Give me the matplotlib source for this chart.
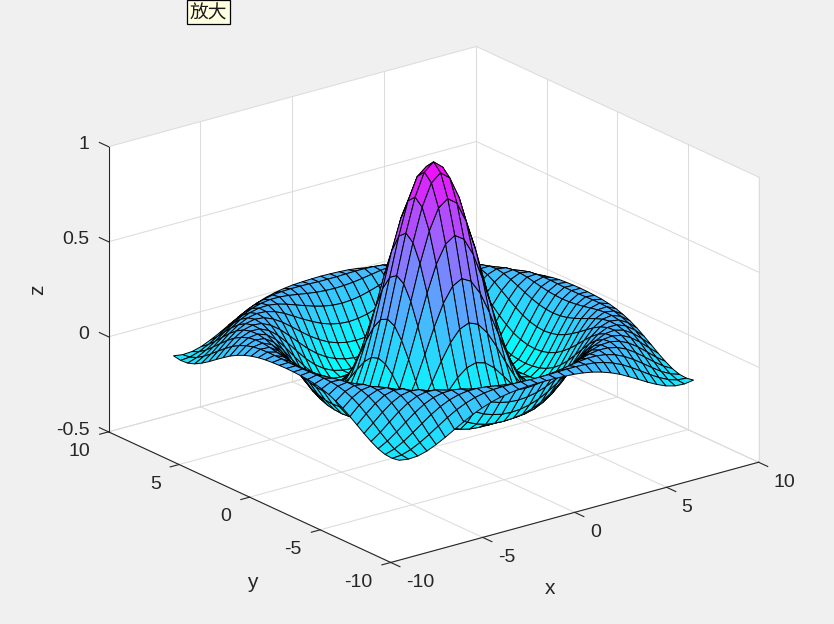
import numpy as np
import matplotlib
matplotlib.use('Agg')
import matplotlib.pyplot as plt
from matplotlib.patches import Rectangle
from mpl_toolkits.mplot3d.art3d import Poly3DCollection

# grid of the surface, one line every half unit
grid_x = [-8.0, -7.5, -7.0, -6.5, -6.0, -5.5, -5.0, -4.5, -4.0, -3.5, -3.0, -2.5, -2.0, -1.5, -1.0, -0.5, 0.0,
          0.5, 1.0, 1.5, 2.0, 2.5, 3.0, 3.5, 4.0, 4.5, 5.0, 5.5, 6.0, 6.5, 7.0, 7.5, 8.0]
grid_y = list(grid_x)

# heights for one eighth of the surface, row = |index from centre|, the rest is mirrored
z_rows = [
    [1.0],
    [.959, .919],
    [.841, .805, .698],
    [.665, .632, .540, .402],
    [.455, .428, .352, .239, .109],
    [.239, .219, .161, .077, -.019, -.109],
    [.047, .033, -.006, -.063, -.124, -.177, -.210],
    [-.100, -.109, -.132, -.162, -.192, -.213, -.216, -.196],
    [-.189, -.192, -.202, -.212, -.217, -.212, -.192, -.155, -.103],
    [-.217, -.217, -.216, -.211, -.199, -.176, -.142, -.097, -.043, .013],
    [-.192, -.189, -.182, -.167, -.145, -.114, -.075, -.029, .019, .064, .100],
    [-.128, -.125, -.114, -.097, -.071, -.040, -.003, .036, .073, .103, .123, .128],
    [-.047, -.043, -.033, -.016, .007, .033, .061, .089, .111, .125, .128, .118, .095],
    [.033, .036, .044, .057, .073, .090, .107, .121, .128, .126, .115, .093, .062, .025],
    [.094, .096, .100, .107, .115, .123, .128, .128, .121, .107, .085, .056, .022, -.013, -.046],
    [.125, .125, .127, .128, .128, .126, .121, .110, .094, .072, .044, .013, -.019, -.048, -.072, -.087],
    [.124, .123, .121, .118, .112, .103, .090, .073, .052, .026, -.001, -.029, -.054, -.075, -.088, -.091, -.084],
]

x_ticks = [-10, -5, 0, 5, 10]
y_ticks = [-10, -5, 0, 5, 10]
z_ticks = [-0.5, 0, 0.5, 1]
z_tick_labels = ['-0.5', '0', '0.5', '1']
button_label = '放大'

# build the full table from the typed rows
n = len(grid_x)
mid = n // 2
Z = np.zeros((n, n))
for i in range(n):
    for j in range(n):
        a, b = abs(i - mid), abs(j - mid)
        Z[i, j] = z_rows[max(a, b)][min(a, b)]
X, Y = np.meshgrid(grid_x, grid_y)

plt.rcParams['font.family'] = ['Liberation Sans', 'DejaVu Sans']
text_col = '#262626'
grid_col = '#dcdcdc'

fig = plt.figure(figsize=(8.34, 6.24), dpi=100, facecolor='#f0f0f0')
ax = fig.add_axes([33 / 834, -81 / 624, 780 / 834, 780 / 624], projection='3d',
                  proj_type='ortho', computed_zorder=False)
ax.patch.set_alpha(0)
ax.set_box_aspect((1, 1, 0.658), zoom=0.9)
ax.view_init(elev=20.8, azim=-127.5)
ax.set_xlim(-10, 10, view_margin=0)
ax.set_ylim(-10, 10, view_margin=0)
ax.set_zlim(-0.5, 1, view_margin=0)
ax.set_axis_off()

xa, xb = x_ticks[0], x_ticks[-1]
ya, yb = y_ticks[0], y_ticks[-1]
za, zb = z_ticks[0], z_ticks[-1]

# white walls and floor
walls = [
    [(xa, ya, za), (xb, ya, za), (xb, yb, za), (xa, yb, za)],
    [(xa, yb, za), (xb, yb, za), (xb, yb, zb), (xa, yb, zb)],
    [(xb, ya, za), (xb, yb, za), (xb, yb, zb), (xb, ya, zb)],
]
ax.add_collection3d(Poly3DCollection(walls, facecolor='white', edgecolor='none', zorder=1))

# grid lines on floor and walls
for t in x_ticks:
    ax.plot([t, t], [ya, yb], [za, za], color=grid_col, lw=0.75, zorder=2)
    ax.plot([t, t], [yb, yb], [za, zb], color=grid_col, lw=0.75, zorder=2)
for t in y_ticks:
    ax.plot([xa, xb], [t, t], [za, za], color=grid_col, lw=0.75, zorder=2)
    ax.plot([xb, xb], [t, t], [za, zb], color=grid_col, lw=0.75, zorder=2)
for t in z_ticks:
    ax.plot([xa, xb], [yb, yb], [t, t], color=grid_col, lw=0.75, zorder=2)
    ax.plot([xb, xb], [ya, yb], [t, t], color=grid_col, lw=0.75, zorder=2)

# surface, flat coloured from the cool colormap
colors = plt.cm.cool((Z - Z.min()) / (Z.max() - Z.min()))
ax.plot_surface(X, Y, Z, facecolors=colors, rstride=1, cstride=1, shade=False,
                edgecolor='black', linewidth=0.7, antialiased=True, zorder=3)

# axis lines and ticks
ax.plot([xa, xb], [ya, ya], [za, za], color=text_col, lw=0.8, zorder=4)
ax.plot([xa, xa], [ya, yb], [za, za], color=text_col, lw=0.8, zorder=4)
ax.plot([xa, xa], [yb, yb], [za, zb], color=text_col, lw=0.8, zorder=4)
for t in x_ticks:
    ax.plot([t, t], [ya, ya - 0.65], [za, za], color=text_col, lw=0.8, zorder=4)
    ax.text(t, ya - 1.07, za - 0.068, str(t), ha='left', va='center', fontsize=14, color=text_col)
for t in y_ticks:
    ax.plot([xa, xa - 0.48], [t, t], [za, za], color=text_col, lw=0.8, zorder=4)
    ax.text(xa - 1.0, t, za - 0.077, str(t), ha='right', va='center', fontsize=14, color=text_col)
for t, lab in zip(z_ticks, z_tick_labels):
    ax.plot([xa, xa], [yb, yb + 0.65], [t, t], color=text_col, lw=0.8, zorder=4)
    ax.text(xa, yb + 1.36, t - 0.037, lab, ha='right', va='center', fontsize=14, color=text_col)

ax.text(-1.35, ya, -0.866, 'x', ha='center', va='center', fontsize=15, color=text_col)
ax.text(xa, -0.21, -0.94, 'y', ha='center', va='center', fontsize=15, color=text_col)
ax.text(xa, 15, 0.076, 'z', zdir='z', ha='center', va='center', fontsize=15, color=text_col)

# the button on top of the figure
fig.add_artist(Rectangle((186.5 / 834, 1 - 23.5 / 624), 43 / 834, 23.5 / 624, transform=fig.transFigure,
                         facecolor='#ffffe1', edgecolor='black', lw=0.9))
fig.text(208 / 834, 1 - 13 / 624, button_label, ha='center', va='center', fontsize=13.5, color='#1a1a1a',
         family=['Noto Sans CJK SC', 'DejaVu Sans'])

fig.savefig('out.png', dpi=100, facecolor=fig.get_facecolor())
